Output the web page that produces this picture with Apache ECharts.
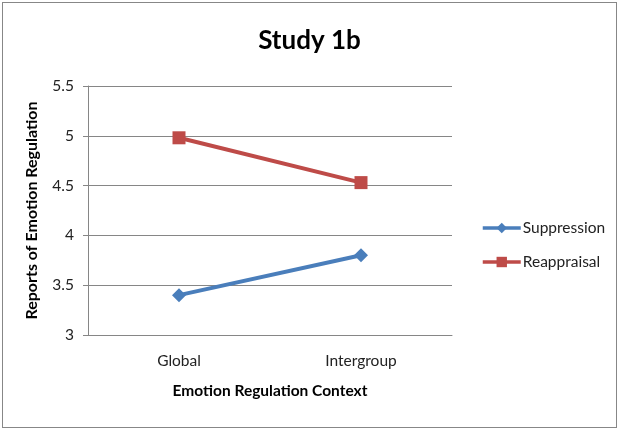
<!DOCTYPE html>
<html>
<head>
<meta charset="utf-8">
<script src="https://cdn.jsdelivr.net/npm/echarts@6/dist/echarts.min.js"></script>
<style>
	body { margin: 0; background: #fff; }
	#chart { position: absolute; left: 2px; top: 2px; width: 613px; height: 424px; border: 1px solid #878787; }
</style>
</head>
<body>
<div id="chart"></div>
<script>
// chart data
const categories = ['Global', 'Intergroup'];
const suppression = [3.4, 3.8];
const reappraisal = [4.98, 4.53];
const yTicks = { min: 3, max: 5.5, interval: 0.5 };

const font = 'Lato, "Open Sans", sans-serif';
const chart = echarts.init(document.getElementById('chart'));

const option = {
	animation: false,
	title: {
		text: 'Study 1b',
		left: 'center',
		top: 20,
		textStyle: { fontFamily: font, fontSize: 26, fontWeight: 'bold', color: '#000' }
	},
	legend: {
		orient: 'vertical',
		left: 473,
		top: 212,
		itemGap: 18,
		itemWidth: 38,
		itemHeight: 13,
		lineStyle: { width: 3.5 },
		textStyle: { fontFamily: font, fontSize: 15.5, color: '#222', padding: [0, 0, 0, -3] },
		data: ['Suppression', 'Reappraisal']
	},
	grid: { left: 85, right: 164, top: 83, bottom: 92 },
	xAxis: {
		type: 'category',
		data: categories,
		boundaryGap: true,
		name: 'Emotion Regulation Context',
		nameLocation: 'middle',
		nameGap: 48,
		nameTextStyle: { fontFamily: font, fontSize: 15.5, fontWeight: 'bold', color: '#000' },
		axisLine: { lineStyle: { color: '#868686' } },
		axisTick: { show: false },
		axisLabel: { fontFamily: font, fontSize: 15.5, color: '#222', margin: 18 }
	},
	yAxis: {
		type: 'value',
		min: yTicks.min,
		max: yTicks.max,
		interval: yTicks.interval,
		name: 'Reports of Emotion Regulation',
		nameLocation: 'middle',
		nameGap: 48,
		nameTextStyle: { fontFamily: font, fontSize: 16, fontWeight: 'bold', color: '#000' },
		axisLine: { show: true, lineStyle: { color: '#868686' } },
		axisTick: { show: true, length: 5, lineStyle: { color: '#868686' } },
		axisLabel: { fontFamily: font, fontSize: 15.5, color: '#222', margin: 14 },
		splitLine: { lineStyle: { color: '#868686' } }
	},
	series: [
		{
			name: 'Suppression',
			type: 'line',
			data: suppression,
			symbol: 'diamond',
			symbolSize: 14,
			lineStyle: { color: '#4A7EBB', width: 4 },
			itemStyle: { color: '#4A7EBB' }
		},
		{
			name: 'Reappraisal',
			type: 'line',
			data: reappraisal,
			symbol: 'rect',
			symbolSize: 13,
			lineStyle: { color: '#BE4B48', width: 4 },
			itemStyle: { color: '#BE4B48' }
		}
	]
};

chart.setOption(option);
</script>
</body>
</html>
